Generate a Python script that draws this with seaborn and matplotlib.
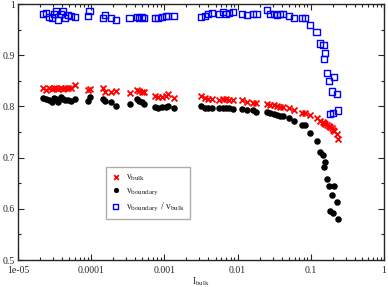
import numpy as np
import seaborn as sns
import matplotlib
matplotlib.use('Agg')
import matplotlib.pyplot as plt
from matplotlib.ticker import LogLocator, FuncFormatter, MultipleLocator

# data
i_bulk = [2.20e-5, 2.41e-5, 2.65e-5, 2.91e-5, 3.10e-5, 3.30e-5, 3.52e-5, 3.87e-5,
          4.12e-5, 4.39e-5, 4.82e-5, 5.30e-5, 6.01e-5,
          9.04e-5, 9.48e-5,
          1.45e-4, 1.54e-4, 1.86e-4, 2.18e-4,
          3.34e-4, 4.18e-4, 4.50e-4, 4.87e-4, 5.26e-4,
          7.44e-4, 8.25e-4, 9.19e-4, 1.05e-3, 1.13e-3, 1.35e-3,
          3.13e-3, 3.59e-3, 3.98e-3, 4.43e-3, 5.62e-3, 6.26e-3, 6.94e-3, 7.70e-3,
          8.57e-3, 1.14e-2, 1.33e-2, 1.64e-2, 1.81e-2, 2.54e-2, 2.77e-2, 3.14e-2,
          3.48e-2, 3.79e-2, 4.21e-2, 5.08e-2, 5.90e-2, 7.58e-2, 8.33e-2, 9.75e-2,
          0.120, 0.1335, 0.149, 0.153, 0.156, 0.168, 0.1756, 0.183, 0.193, 0.203,
          0.206, 0.226, 0.237]

nu_bulk = [0.836, 0.832, 0.836, 0.834, 0.836, 0.836, 0.834, 0.836,
           0.834, 0.836, 0.835, 0.836, 0.842,
           0.832, 0.834,
           0.835, 0.828, 0.829, 0.830,
           0.826, 0.832, 0.830, 0.828, 0.829,
           0.821, 0.819, 0.819, 0.821, 0.824, 0.817,
           0.821, 0.816, 0.814, 0.814, 0.8125, 0.814, 0.814, 0.8125,
           0.8125, 0.8125, 0.809, 0.807, 0.807, 0.805, 0.803, 0.803,
           0.801, 0.799, 0.799, 0.796, 0.793, 0.788, 0.788, 0.783,
           0.777, 0.772, 0.769, 0.767, 0.766, 0.764, 0.761, 0.759, 0.757, 0.754,
           0.752, 0.746, 0.736]

nu_boundary = [0.817, 0.814, 0.8125, 0.809, 0.816, 0.814, 0.809, 0.819,
               0.814, 0.8125, 0.8125, 0.811, 0.814,
               0.811, 0.819,
               0.814, 0.811, 0.808, 0.801,
               0.804, 0.814, 0.811, 0.808, 0.804,
               0.799, 0.797, 0.798, 0.799, 0.801, 0.797,
               0.801, 0.797, 0.797, 0.797, 0.797, 0.797, 0.797, 0.796,
               0.795, 0.795, 0.792, 0.792, 0.790, 0.790, 0.787, 0.785,
               0.783, 0.782, 0.781, 0.777, 0.772, 0.764, 0.764, 0.749,
               0.733, 0.710, 0.705, 0.681, 0.692, 0.659, 0.645, 0.596, 0.626, 0.591,
               0.645, 0.614, 0.581]

nu_ratio = [0.980, 0.982, 0.975, 0.972, 0.980, 0.986, 0.969, 0.980,
            0.986, 0.973, 0.979, 0.977, 0.975,
            0.976, 0.987,
            0.972, 0.979, 0.973, 0.969,
            0.973, 0.975, 0.973, 0.975, 0.972,
            0.973, 0.973, 0.975, 0.977, 0.977, 0.977,
            0.975, 0.977, 0.980, 0.982, 0.980, 0.984, 0.980, 0.982,
            0.984, 0.980, 0.979, 0.980, 0.980, 0.988, 0.980, 0.980,
            0.979, 0.980, 0.980, 0.977, 0.972, 0.972, 0.972, 0.959,
            0.946, 0.923, 0.920, 0.892, 0.905, 0.866, 0.850, 0.785, 0.829, 0.787,
            0.857, 0.824, 0.792]

sns.set_style('ticks')
plt.rcParams['font.family'] = ['Liberation Serif', 'DejaVu Serif']
plt.rcParams['mathtext.fontset'] = 'custom'
plt.rcParams['mathtext.rm'] = 'Liberation Serif'
plt.rcParams['mathtext.it'] = 'Liberation Serif:italic'

fig = plt.figure(figsize=(3.88, 2.87), dpi=100)
ax = fig.add_axes([18 / 388, 1 - 260 / 287, 366 / 388, 256 / 287])

sns.scatterplot(x=i_bulk, y=nu_bulk, ax=ax, marker='x', color='#ff0000',
                s=18, linewidth=1.3, label='ν$_{\\mathrm{bulk}}$')
sns.scatterplot(x=i_bulk, y=nu_boundary, ax=ax, marker='o', color='#000000',
                s=22, linewidth=0, label='ν$_{\\mathrm{boundary}}$')
sns.scatterplot(x=i_bulk, y=nu_ratio, ax=ax, marker='s', facecolor='none',
                edgecolor='#0000ff', s=20, linewidth=1.0,
                label='ν$_{\\mathrm{boundary}}$ / ν$_{\\mathrm{bulk}}$')

ax.set_xscale('log')
ax.set_xlim(1e-5, 1)
ax.set_ylim(0.5, 1)
ax.xaxis.set_major_locator(LogLocator(base=10, numticks=10))
ax.xaxis.set_minor_locator(LogLocator(base=10, subs=np.arange(2, 10), numticks=20))
ax.xaxis.set_major_formatter(FuncFormatter(lambda v, p: '%g' % v))
ax.yaxis.set_major_locator(MultipleLocator(0.1))
ax.yaxis.set_minor_locator(MultipleLocator(0.05))
ax.yaxis.set_major_formatter(FuncFormatter(lambda v, p: '%g' % round(v, 2)))

ax.tick_params(which='both', direction='in', top=True, right=True,
               labelsize=7, width=0.8)
ax.tick_params(axis='x', which='major', pad=4)
ax.tick_params(axis='y', which='major', pad=2)
ax.tick_params(which='major', length=4)
ax.tick_params(which='minor', length=2.5)
for sp in ax.spines.values():
    sp.set_linewidth(1.0)

ax.set_xlabel('I$_{\\mathrm{bulk}}$', fontsize=7, labelpad=1)
ax.set_ylabel('')

leg = ax.legend(loc='upper left', bbox_to_anchor=(0.240, 0.362), fontsize=7.3,
                frameon=True, fancybox=False, handlelength=1.0,
                handletextpad=0.5, borderpad=0.5, labelspacing=0.3,
                markerscale=0.8, borderaxespad=0.0)
leg.get_frame().set_edgecolor('#999999')
leg.get_frame().set_linewidth(1.0)

fig.savefig('out.png', dpi=100)
